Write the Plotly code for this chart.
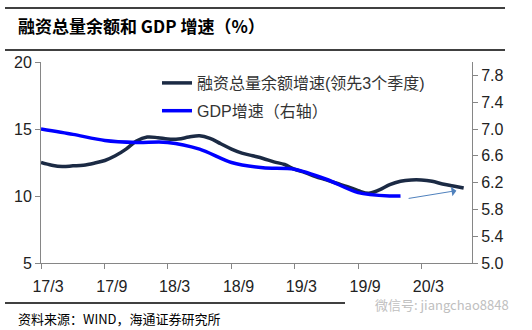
import plotly.graph_objects as go

# ---- data ----
credit_dates = [f"{2017 + (m + 2) // 12}-{(m + 2) % 12 + 1:02d}-01" for m in range(41)]
credit_vals = [12.5, 12.3, 12.2, 12.25, 12.3, 12.45, 12.65, 13.0, 13.5, 14.1,
               14.4, 14.35, 14.25, 14.25, 14.4, 14.5, 14.3, 13.9, 13.5, 13.2,
               13.0, 12.8, 12.55, 12.35, 12.0, 11.75, 11.45, 11.2, 10.95, 10.7,
               10.4, 10.2, 10.45, 10.85, 11.1, 11.2, 11.2, 11.1, 10.9, 10.75, 10.6]
gdp_dates = ["2017-03-01", "2017-06-01", "2017-09-01", "2017-12-01",
             "2018-03-01", "2018-06-01", "2018-09-01", "2018-12-01",
             "2019-03-01", "2019-06-01", "2019-09-01", "2019-12-01", "2020-01-01"]
gdp_vals = [7.0, 6.92, 6.83, 6.8, 6.8, 6.7, 6.5, 6.42, 6.4, 6.25, 6.05, 6.0, 6.0]

left_ticks = [5, 10, 15, 20]
right_ticks = [5.0, 5.4, 5.8, 6.2, 6.6, 7.0, 7.4, 7.8]

title = "<b>融资总量余额和 GDP 增速（%）</b>"
source = "资料来源：WIND，海通证券研究所"
name_credit = "融资总量余额增速(领先3个季度)"
name_gdp = "GDP增速（右轴）"

# ---- layout helpers (pixel -> paper) ----
W, H = 532, 330
L, R, T, B = 41, 472, 62, 263
def px(x): return (x - L) / (R - L)
def py(y): return (B - y) / (B - T)

fig = go.Figure()
fig.add_trace(go.Scatter(x=credit_dates, y=credit_vals, mode="lines", name=name_credit,
                         legendgroup="a",
                         line=dict(color="#1b2a44", width=3.5, shape="spline", smoothing=1.0)))
fig.add_trace(go.Scatter(x=gdp_dates, y=gdp_vals, mode="lines", name=name_gdp, yaxis="y2",
                         legendgroup="b",
                         line=dict(color="#0000ff", width=3.5, shape="spline", smoothing=0.8)))

axis_col = "#868686"
font_main = "Liberation Sans, Arial, Noto Sans CJK SC"
fig.update_layout(
    width=W, height=H,
    margin=dict(l=L, r=W - R, t=T, b=H - B),
    paper_bgcolor="white", plot_bgcolor="white",
    font=dict(family=font_main, size=16, color="#222"),
    showlegend=True,
    legend=dict(x=px(157), y=py(66), xanchor="left", yanchor="top",
                bgcolor="rgba(0,0,0,0)", font=dict(size=16, color="#333",
                family="Liberation Sans, Noto Sans CJK SC"),
                tracegroupgap=4),
    xaxis=dict(type="date", range=["2017-03-01", "2020-07-25"], tick0="2017-03-01",
               dtick="M6", tickformat="%y/%-m", showgrid=False, showline=True,
               linecolor=axis_col, linewidth=1, ticks="outside", ticklen=5,
               tickcolor=axis_col, ticklabelshift=7, ticklabelstandoff=4,
               tickfont=dict(size=16, color="#222"), zeroline=False),
    yaxis=dict(range=[5, 20], tickvals=left_ticks, showgrid=False, showline=True,
               linecolor=axis_col, ticks="outside", ticklen=5, tickcolor=axis_col,
               zeroline=False, tickfont=dict(size=16, color="#222")),
    yaxis2=dict(range=[5, 8], tickvals=right_ticks, tickformat=".1f", overlaying="y",
                side="right", showgrid=False, showline=True, linecolor=axis_col,
                ticks="outside", ticklen=5, tickcolor=axis_col, zeroline=False,
                tickfont=dict(size=16, color="#222")),
)

# frame lines
for y0, x0, x1 in [(8, 5, 505), (50, 5, 505), (303, 5, 345)]:
    fig.add_shape(type="line", xref="paper", yref="paper", x0=px(x0), x1=px(x1),
                  y0=py(y0), y1=py(y0), line=dict(color="black", width=1.5))

fig.add_annotation(text=title, xref="paper", yref="paper", x=px(16), y=py(26),
                   xanchor="left", yanchor="middle", showarrow=False,
                   font=dict(size=17, color="black", family="Noto Sans CJK SC, Liberation Sans"))
fig.add_annotation(text=source, xref="paper", yref="paper", x=px(16), y=py(318),
                   xanchor="left", yanchor="middle", showarrow=False,
                   font=dict(size=13, color="black", family="Noto Sans CJK SC"))
fig.add_annotation(text="微信号: jiangchao8848", xref="paper", yref="paper", x=px(373), y=py(304),
                   xanchor="left", yanchor="middle", showarrow=False,
                   font=dict(size=13, color="#c0c0c0", family="Noto Sans CJK SC"))

# arrow
fig.add_annotation(x="2020-06-10", y=6.08, ax="2020-01-20", ay=5.96,
                   xref="x", yref="y2", axref="x", ayref="y2", text="",
                   showarrow=True, arrowhead=1, arrowsize=1.6, arrowwidth=1,
                   arrowcolor="#4f81bd")

fig.write_html("out.html")
